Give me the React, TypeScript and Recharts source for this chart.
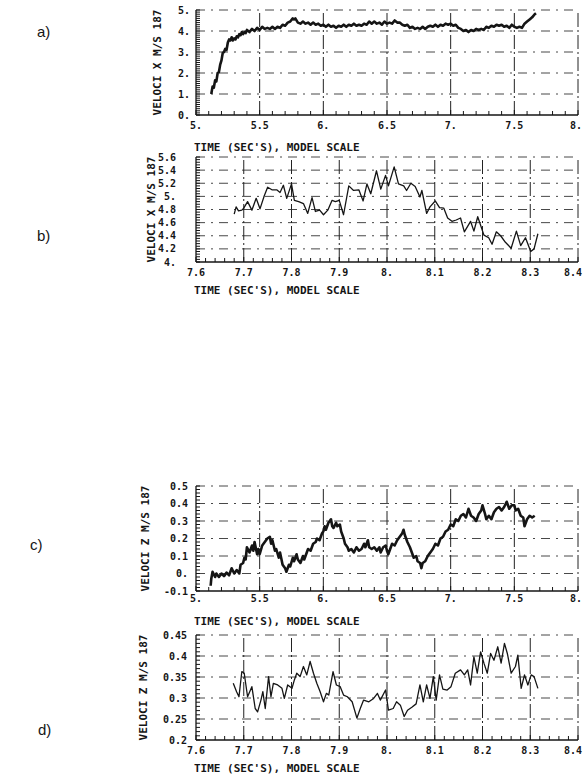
import React from "react";
import { LineChart, Line, XAxis, YAxis, ReferenceLine } from "recharts";

// [time (s), velocity]
const velXLong: [number, number][] = [
  [5.12, 1.0], [5.13, 1.35], [5.14, 1.3], [5.15, 1.65], [5.16, 1.6], [5.17, 2.0], [5.18, 2.05], [5.19, 2.4],
  [5.2, 2.6], [5.21, 2.95], [5.22, 3.0], [5.23, 3.15], [5.24, 3.1], [5.25, 3.45], [5.26, 3.6], [5.27, 3.55],
  [5.28, 3.7], [5.29, 3.55], [5.3, 3.65], [5.31, 3.6], [5.32, 3.75], [5.33, 3.7], [5.34, 3.85], [5.35, 3.8],
  [5.36, 3.95], [5.37, 3.85], [5.38, 3.95], [5.39, 3.9], [5.4, 4.05], [5.42, 3.95], [5.44, 4.1], [5.46, 4.0],
  [5.48, 4.15], [5.5, 4.05], [5.52, 4.2], [5.54, 4.1], [5.56, 4.15], [5.58, 4.1], [5.6, 4.2], [5.62, 4.1],
  [5.64, 4.2], [5.66, 4.15], [5.68, 4.3], [5.7, 4.25], [5.72, 4.4], [5.74, 4.45], [5.76, 4.6], [5.77, 4.55],
  [5.78, 4.6], [5.8, 4.4], [5.82, 4.35], [5.84, 4.45], [5.86, 4.35], [5.88, 4.4], [5.9, 4.3], [5.92, 4.4],
  [5.94, 4.3], [5.96, 4.35], [5.98, 4.25], [6.0, 4.3], [6.02, 4.2], [6.04, 4.3], [6.06, 4.2], [6.08, 4.25],
  [6.1, 4.15], [6.12, 4.25], [6.14, 4.2], [6.16, 4.3], [6.18, 4.2], [6.2, 4.3], [6.22, 4.25], [6.24, 4.35],
  [6.26, 4.25], [6.28, 4.3], [6.3, 4.25], [6.32, 4.35], [6.34, 4.3], [6.36, 4.45], [6.38, 4.35], [6.4, 4.45],
  [6.42, 4.35], [6.44, 4.4], [6.46, 4.3], [6.48, 4.45], [6.5, 4.35], [6.52, 4.4], [6.54, 4.35], [6.56, 4.5],
  [6.58, 4.4], [6.6, 4.4], [6.62, 4.3], [6.64, 4.25], [6.66, 4.3], [6.68, 4.15], [6.7, 4.2], [6.72, 4.1],
  [6.74, 4.15], [6.76, 4.1], [6.78, 4.2], [6.8, 4.1], [6.82, 4.2], [6.84, 4.25], [6.86, 4.2], [6.88, 4.3],
  [6.9, 4.2], [6.92, 4.3], [6.94, 4.25], [6.96, 4.35], [6.98, 4.3], [7.0, 4.35], [7.02, 4.25], [7.04, 4.3],
  [7.06, 4.15], [7.08, 4.1], [7.1, 4.0], [7.12, 4.05], [7.14, 3.95], [7.16, 4.05], [7.18, 4.0], [7.2, 4.1],
  [7.22, 4.05], [7.24, 4.1], [7.26, 4.05], [7.28, 4.2], [7.3, 4.15], [7.32, 4.25], [7.34, 4.2], [7.36, 4.3],
  [7.38, 4.25], [7.4, 4.3], [7.42, 4.2], [7.44, 4.25], [7.46, 4.15], [7.48, 4.3], [7.5, 4.2], [7.52, 4.15],
  [7.54, 4.2], [7.56, 4.15], [7.58, 4.35], [7.6, 4.45], [7.62, 4.55], [7.64, 4.65], [7.66, 4.8], [7.67, 4.85],
];

const velXShort: [number, number][] = [
  [7.68, 4.73], [7.684, 4.84], [7.689, 4.78], [7.696, 4.79], [7.7, 4.82], [7.708, 4.92], [7.717, 4.79],
  [7.726, 4.97], [7.734, 4.81], [7.743, 5.01], [7.75, 5.14], [7.759, 5.1], [7.769, 5.1], [7.776, 5.06],
  [7.783, 5.17], [7.79, 4.97], [7.8, 5.19], [7.806, 4.94], [7.815, 4.92], [7.825, 4.89], [7.834, 4.74],
  [7.843, 4.98], [7.85, 4.77], [7.859, 4.79], [7.867, 4.72], [7.876, 4.79], [7.885, 4.94], [7.892, 4.92],
  [7.9, 4.94], [7.909, 4.72], [7.92, 5.16], [7.93, 5.09], [7.941, 5.1], [7.95, 4.93], [7.958, 5.19],
  [7.966, 5.04], [7.978, 5.39], [7.987, 5.11], [7.997, 5.32], [8.003, 5.16], [8.015, 5.45], [8.024, 5.19],
  [8.035, 5.16], [8.041, 5.09], [8.05, 5.2], [8.059, 5.15], [8.069, 4.99], [8.073, 5.09], [8.083, 4.74],
  [8.09, 4.84], [8.101, 4.93], [8.11, 4.83], [8.119, 4.82], [8.127, 4.67], [8.136, 4.62], [8.145, 4.64],
  [8.154, 4.67], [8.162, 4.46], [8.175, 4.62], [8.182, 4.47], [8.19, 4.69], [8.203, 4.41], [8.213, 4.37],
  [8.22, 4.27], [8.229, 4.46], [8.238, 4.4], [8.248, 4.3], [8.26, 4.21], [8.271, 4.47], [8.28, 4.25],
  [8.29, 4.37], [8.301, 4.16], [8.308, 4.2], [8.316, 4.43],
];

const velZLong: [number, number][] = [
  [5.115, -0.07], [5.12, -0.03], [5.13, 0.01], [5.15, -0.02], [5.16, 0.0], [5.18, -0.02], [5.2, 0.0],
  [5.22, -0.015], [5.24, 0.005], [5.26, -0.01], [5.28, 0.03], [5.3, 0.0], [5.32, 0.02], [5.34, 0.0],
  [5.35, 0.05], [5.37, 0.06], [5.38, 0.09], [5.39, 0.08], [5.4, 0.15], [5.42, 0.12], [5.44, 0.16],
  [5.45, 0.13], [5.46, 0.18], [5.48, 0.11], [5.49, 0.14], [5.5, 0.11], [5.52, 0.16], [5.54, 0.18],
  [5.56, 0.2], [5.58, 0.21], [5.59, 0.17], [5.6, 0.19], [5.62, 0.13], [5.63, 0.14], [5.65, 0.09],
  [5.66, 0.12], [5.68, 0.05], [5.7, 0.03], [5.71, 0.01], [5.73, 0.05], [5.74, 0.04], [5.76, 0.09],
  [5.77, 0.07], [5.79, 0.11], [5.8, 0.08], [5.82, 0.06], [5.84, 0.1], [5.85, 0.08], [5.87, 0.12],
  [5.88, 0.14], [5.9, 0.13], [5.92, 0.17], [5.94, 0.18], [5.95, 0.2], [5.97, 0.19], [5.99, 0.23],
  [6.0, 0.24], [6.01, 0.27], [6.02, 0.25], [6.04, 0.29], [6.06, 0.31], [6.07, 0.27], [6.08, 0.26],
  [6.1, 0.29], [6.11, 0.27], [6.13, 0.28], [6.14, 0.24], [6.16, 0.2], [6.17, 0.17], [6.19, 0.15],
  [6.2, 0.13], [6.22, 0.14], [6.24, 0.12], [6.26, 0.15], [6.28, 0.13], [6.3, 0.14], [6.32, 0.17],
  [6.33, 0.15], [6.35, 0.19], [6.36, 0.15], [6.38, 0.14], [6.4, 0.15], [6.42, 0.13], [6.44, 0.15],
  [6.45, 0.12], [6.47, 0.15], [6.49, 0.16], [6.5, 0.13], [6.51, 0.11], [6.53, 0.15], [6.54, 0.17],
  [6.56, 0.16], [6.58, 0.19], [6.6, 0.21], [6.62, 0.23], [6.63, 0.25], [6.64, 0.22], [6.66, 0.18],
  [6.68, 0.15], [6.7, 0.11], [6.71, 0.09], [6.73, 0.1], [6.74, 0.07], [6.76, 0.06], [6.77, 0.03],
  [6.78, 0.06], [6.8, 0.07], [6.82, 0.1], [6.84, 0.12], [6.86, 0.14], [6.88, 0.17], [6.9, 0.16],
  [6.92, 0.2], [6.94, 0.21], [6.96, 0.24], [6.98, 0.25], [7.0, 0.28], [7.02, 0.27], [7.04, 0.31],
  [7.06, 0.3], [7.08, 0.33], [7.1, 0.34], [7.12, 0.32], [7.14, 0.37], [7.16, 0.33], [7.18, 0.32],
  [7.2, 0.3], [7.22, 0.34], [7.24, 0.36], [7.25, 0.39], [7.27, 0.34], [7.28, 0.31], [7.3, 0.33],
  [7.32, 0.31], [7.34, 0.35], [7.36, 0.37], [7.38, 0.38], [7.4, 0.36], [7.42, 0.38], [7.44, 0.41],
  [7.46, 0.37], [7.48, 0.39], [7.5, 0.39], [7.51, 0.36], [7.53, 0.37], [7.55, 0.33], [7.57, 0.32],
  [7.58, 0.27], [7.6, 0.31], [7.62, 0.33], [7.64, 0.32], [7.66, 0.33],
];

const velZShort: [number, number][] = [
  [7.678, 0.335], [7.685, 0.315], [7.69, 0.303], [7.696, 0.363], [7.701, 0.359], [7.708, 0.303],
  [7.717, 0.327], [7.724, 0.275], [7.729, 0.267], [7.736, 0.295], [7.74, 0.315], [7.745, 0.275],
  [7.752, 0.351], [7.757, 0.303], [7.762, 0.335], [7.771, 0.331], [7.78, 0.323], [7.785, 0.299],
  [7.792, 0.331], [7.801, 0.323], [7.806, 0.343], [7.811, 0.359], [7.818, 0.351], [7.825, 0.375],
  [7.832, 0.355], [7.839, 0.387], [7.846, 0.359], [7.853, 0.335], [7.86, 0.315], [7.867, 0.291],
  [7.873, 0.311], [7.878, 0.307], [7.887, 0.363], [7.894, 0.331], [7.902, 0.327], [7.909, 0.307],
  [7.917, 0.303], [7.927, 0.291], [7.937, 0.252], [7.944, 0.275], [7.951, 0.295], [7.962, 0.291],
  [7.972, 0.299], [7.98, 0.311], [7.986, 0.295], [7.997, 0.319], [8.003, 0.271], [8.013, 0.275],
  [8.02, 0.291], [8.028, 0.283], [8.036, 0.256], [8.043, 0.271], [8.052, 0.278], [8.061, 0.286],
  [8.069, 0.331], [8.076, 0.291], [8.083, 0.331], [8.09, 0.299], [8.097, 0.351], [8.103, 0.295],
  [8.11, 0.355], [8.117, 0.321], [8.126, 0.319], [8.134, 0.327], [8.143, 0.359], [8.154, 0.367],
  [8.162, 0.355], [8.169, 0.367], [8.175, 0.331], [8.182, 0.398], [8.189, 0.359], [8.196, 0.41],
  [8.203, 0.383], [8.21, 0.359], [8.217, 0.406], [8.224, 0.39], [8.232, 0.422], [8.239, 0.383],
  [8.246, 0.43], [8.252, 0.406], [8.26, 0.359], [8.269, 0.375], [8.274, 0.402], [8.281, 0.323],
  [8.288, 0.355], [8.295, 0.331], [8.302, 0.355], [8.308, 0.351], [8.316, 0.323],
];

const timeTicksLong = [5, 5.5, 6, 6.5, 7, 7.5, 8];
const timeLabelsLong = ["5.", "5.5", "6.", "6.5", "7.", "7.5", "8."];
const timeTicksShort = [7.6, 7.7, 7.8, 7.9, 8, 8.1, 8.2, 8.3, 8.4];
const timeLabelsShort = ["7.6", "7.7", "7.8", "7.9", "8.", "8.1", "8.2", "8.3", "8.4"];

const velTicksA = [0, 1, 2, 3, 4, 5];
const velLabelsA = ["0.", "1.", "2.", "3.", "4.", "5."];
const velTicksB = [4, 4.2, 4.4, 4.6, 4.8, 5, 5.2, 5.4, 5.6];
const velLabelsB = ["4.", "4.2", "4.4", "4.6", "4.8", "5.", "5.2", "5.4", "5.6"];
const velTicksC = [-0.1, 0, 0.1, 0.2, 0.3, 0.4, 0.5];
const velLabelsC = ["-0.1", "0.", "0.1", "0.2", "0.3", "0.4", "0.5"];
const velTicksD = [0.2, 0.25, 0.3, 0.35, 0.4, 0.45];
const velLabelsD = ["0.2", "0.25", "0.3", "0.35", "0.4", "0.45"];

const INK = "#151515";
const MONO = "'DejaVu Sans Mono', monospace";
const X_TITLE = "TIME (SEC'S), MODEL SCALE";
const PAGE_W = 583;

const ladder = (lo: number, hi: number, step: number) => {
  const n = Math.round((hi - lo) / step);
  return Array.from({ length: n + 1 }, (_, i) => +(lo + i * step).toFixed(4));
};

const findMajor = (majors: number[], v: number) =>
  majors.findIndex((m) => Math.abs(m - v) < 1e-6);

const makeXTick = (majors: number[], labels: string[], drop: number) => (props: any) => {
  const { x, y, payload } = props;
  const i = findMajor(majors, payload.value);
  const label = i >= 0 ? labels[i] : "";
  // keep the last label inside the page
  const half = label.length * 3.1;
  const anchor = x + half > PAGE_W - 1 ? "end" : "middle";
  const tx = anchor === "end" ? PAGE_W - 1 : x;
  return (
    <g>
      <line x1={x} x2={x} y1={y} y2={y - (i >= 0 ? 5 : 4)} stroke={INK} strokeWidth={1} />
      {i >= 0 && (
        <text x={tx} y={y + drop} textAnchor={anchor} fontFamily={MONO} fontSize={10} fontWeight={700} fill={INK}>
          {label}
        </text>
      )}
    </g>
  );
};

const makeYTick = (majors: number[], labels: string[], gap: number) => (props: any) => {
  const { x, y, payload } = props;
  const i = findMajor(majors, payload.value);
  return (
    <g>
      <line x1={x} x2={x + 4} y1={y} y2={y} stroke={INK} strokeWidth={1} />
      {i >= 0 && (
        <text x={x - gap} y={y} dy="0.35em" textAnchor="end" fontFamily={MONO} fontSize={10} fontWeight={700} fill={INK}>
          {labels[i]}
        </text>
      )}
    </g>
  );
};

type PanelProps = {
  top: number;
  series: [number, number][];
  xTicks: number[];
  xLabels: string[];
  xStep: number;
  yTicks: number[];
  yLabels: string[];
  yStep: number;
  yTitle: string;
  yTitleDx: number;
  yGap: number;
  xDrop: number;
  titleDy: number;
  lineWidth: number;
};

function Panel(p: PanelProps) {
  const data = p.series.map(([t, v]) => ({ t, v }));
  const xDomain = [p.xTicks[0], p.xTicks[p.xTicks.length - 1]];
  const yDomain = [p.yTicks[0], p.yTicks[p.yTicks.length - 1]];
  return (
    <div style={{ position: "absolute", left: 0, top: p.top }}>
      <LineChart width={PAGE_W} height={160} data={data} margin={{ top: 10, right: 5, left: 156, bottom: 5 }}>
        <XAxis
          dataKey="t"
          type="number"
          domain={xDomain}
          ticks={ladder(xDomain[0], xDomain[1], p.xStep)}
          interval={0}
          allowDataOverflow
          height={40}
          tickSize={0}
          tickMargin={0}
          tickLine={false}
          axisLine={{ stroke: INK, strokeWidth: 1.3 }}
          tick={makeXTick(p.xTicks, p.xLabels, p.xDrop)}
          label={{
            value: X_TITLE,
            position: "insideTopLeft",
            offset: 0,
            dx: -2,
            dy: p.titleDy,
            fontFamily: MONO,
            fontSize: 11,
            fontWeight: 700,
            fill: INK,
          }}
        />
        <YAxis
          type="number"
          domain={yDomain}
          ticks={ladder(yDomain[0], yDomain[1], p.yStep)}
          interval={0}
          allowDataOverflow
          width={40}
          tickSize={0}
          tickMargin={0}
          tickLine={false}
          axisLine={{ stroke: INK, strokeWidth: 1.3 }}
          tick={makeYTick(p.yTicks, p.yLabels, p.yGap)}
          label={{
            value: p.yTitle,
            angle: -90,
            position: "center",
            dx: p.yTitleDx,
            fontFamily: MONO,
            fontSize: 11,
            fontWeight: 700,
            fill: INK,
          }}
        />
        {p.yTicks.slice(1).map((v) => (
          <ReferenceLine key={"h" + v} y={v} stroke="#333" strokeWidth={0.9} strokeDasharray="9 6 2 6" />
        ))}
        {p.xTicks.slice(1).map((v) => (
          <ReferenceLine key={"v" + v} x={v} stroke="#222" strokeWidth={1} strokeDasharray="14 3 2 3" />
        ))}
        <Line
          dataKey="v"
          stroke={INK}
          strokeWidth={p.lineWidth}
          dot={false}
          isAnimationActive={false}
          strokeLinejoin="round"
        />
      </LineChart>
    </div>
  );
}

const tag: React.CSSProperties = {
  position: "absolute",
  fontFamily: "'Liberation Sans', Arial, sans-serif",
  fontSize: 15,
  color: INK,
  lineHeight: "16px",
};

export default function App() {
  return (
    <div
      style={{
        position: "absolute",
        left: 0,
        top: 0,
        width: PAGE_W,
        height: 777,
        overflow: "hidden",
        background: "#fff",
      }}
    >
      <div style={{ ...tag, left: 37, top: 24 }}>a)</div>
      <div style={{ ...tag, left: 37, top: 228 }}>b)</div>
      <div style={{ ...tag, left: 30, top: 537 }}>c)</div>
      <div style={{ ...tag, left: 38, top: 722 }}>d)</div>

      <Panel
        top={0}
        series={velXLong}
        xTicks={timeTicksLong}
        xLabels={timeLabelsLong}
        xStep={0.1}
        yTicks={velTicksA}
        yLabels={velLabelsA}
        yStep={0.1}
        yTitle="VELOCI X M/S 187"
        yTitleDx={-19}
        yGap={6}
        xDrop={14}
        titleDy={28}
        lineWidth={2.6}
      />
      <Panel
        top={147}
        series={velXShort}
        xTicks={timeTicksShort}
        xLabels={timeLabelsShort}
        xStep={0.02}
        yTicks={velTicksB}
        yLabels={velLabelsB}
        yStep={0.04}
        yTitle="VELOCI X M/S 187"
        yTitleDx={-25}
        yGap={20}
        xDrop={14}
        titleDy={24}
        lineWidth={1.3}
      />
      <Panel
        top={476}
        series={velZLong}
        xTicks={timeTicksLong}
        xLabels={timeLabelsLong}
        xStep={0.1}
        yTicks={velTicksC}
        yLabels={velLabelsC}
        yStep={0.02}
        yTitle="VELOCI Z M/S 187"
        yTitleDx={-31}
        yGap={8}
        xDrop={11}
        titleDy={26}
        lineWidth={2.6}
      />
      <Panel
        top={625}
        series={velZShort}
        xTicks={timeTicksShort}
        xLabels={timeLabelsShort}
        xStep={0.02}
        yTicks={velTicksD}
        yLabels={velLabelsD}
        yStep={0.01}
        yTitle="VELOCI Z M/S 187"
        yTitleDx={-33}
        yGap={9}
        xDrop={14}
        titleDy={24}
        lineWidth={1.3}
      />
    </div>
  );
}
